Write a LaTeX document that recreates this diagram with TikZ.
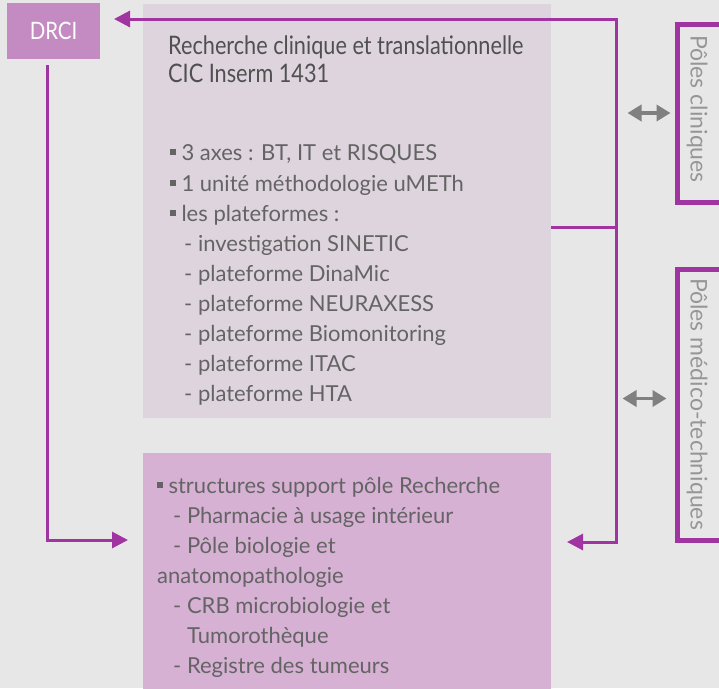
\documentclass[tikz,border=0pt]{standalone}
\usepackage{fontspec}
\setmainfont{Lato}
\newfontfamily\TitleFont{Lato}[FakeStretch=0.85]
\usepackage{xcolor}
\definecolor{ColLine}{RGB}{160,52,160}
\definecolor{ColDrci}{RGB}{195,139,193}
\definecolor{ColTop}{RGB}{222,212,222}
\definecolor{ColBot}{RGB}{214,177,212}
\definecolor{ColBg}{RGB}{231,231,231}
\definecolor{ColText}{RGB}{100,100,100}
\definecolor{ColTitle}{RGB}{80,80,80}
\definecolor{ColPole}{RGB}{150,150,150}
\definecolor{ColArr}{RGB}{128,128,128}
\usetikzlibrary{arrows.meta}
\tikzstyle{Box}=[anchor=north west,inner sep=0pt,outer sep=0pt]
\tikzstyle{Line}=[anchor=base west,inner sep=0pt,text=ColText,
font=\fontsize{22}{30}\selectfont]
\tikzstyle{Title}=[anchor=base west,inner sep=0pt,text=ColTitle,
font=\TitleFont\fontsize{25.5}{28}\selectfont]
\tikzstyle{Link}=[draw=ColLine,line width=3pt]
\tikzstyle{Pole}=[draw=ColLine,line width=5pt,anchor=north west,
inner sep=0pt]
\tikzstyle{PoleTxt}=[rotate=-90,text=ColPole,font=\fontsize{23}{24}\selectfont]
\tikzstyle{Both}=[draw=ColArr,line width=3.5pt,
{Triangle[length=14pt,width=16pt]}-{Triangle[length=14pt,width=16pt]}]
\newcommand{\Sq}{\rule[0.22em]{0.26em}{0.26em}}

\begin{document}
\begin{tikzpicture}[x=1pt,y=-1pt]
            \clip (0,0) rectangle (719,688);
            \fill[ColBg] (0,0) rectangle (719,688);
            %
            \node[Box,fill=ColDrci,minimum width=93pt,minimum height=56pt,
                text=white,font=\TitleFont\fontsize{24}{24}\selectfont](drci)
                at(7,3){DRCI};
            \node[Box,fill=ColTop,minimum width=408pt,minimum height=414pt]
                (rech)at(143,4){};
            \node[Box,fill=ColBot,minimum width=408pt,minimum height=240pt]
                (supp)at(143,453){};
            \node[Pole,minimum width=60pt,minimum height=178pt](pc)
                at(674.5,21.5){};
            \node[Pole,minimum width=60pt,minimum height=271pt](pm)
                at(674.5,266.5){};
            \node[PoleTxt](pctxt)at(697,109){Pôles cliniques};
            \node[PoleTxt](pmtxt)at(697,404){Pôles médico-techniques};
            %
            \node[Title](t1)at(168,54){Recherche clinique et translationnelle};
            \node[Title](t2)at(168,82){CIC Inserm 1431};
            \foreach \x/\y/\t [count=\i] in {
                170/160/{\Sq\ 3 axes : BT, IT et RISQUES},
                170/191/{\Sq\ 1 unité méthodologie uMETh},
                170/221/{\Sq\ les plateformes :},
                184/251/{- investigation SINETIC},
                184/281/{- plateforme DinaMic},
                184/311/{- plateforme NEURAXESS},
                184/341/{- plateforme Biomonitoring},
                184/371/{- plateforme ITAC},
                184/401/{- plateforme HTA}}
                \node[Line](a\i)at(\x,\y){\t};
            \foreach \x/\y/\t [count=\i] in {
                157/493/{\Sq\ structures support pôle Recherche},
                173/523/{- Pharmacie à usage intérieur},
                173/553/{- Pôle biologie et},
                157/583/{anatomopathologie},
                173/613/{- CRB microbiologie et},
                187/643/{Tumorothèque},
                173/673/{- Registre des tumeurs}}
                \node[Line](b\i)at(\x,\y){\t};
            %
            \coordinate(jT)at(616,19);
            \coordinate(jM)at(616,227);
            \coordinate(jB)at(616,542);
            \coordinate(aT)at(114,19);
            \coordinate(aB)at(567,542);
            \coordinate(d1)at(47,65);
            \coordinate(d2)at(47,540);
            \coordinate(aL)at(128,540);
            \draw[Link,{Triangle[length=16pt,width=16pt]}-{Triangle[length=16pt,width=16pt]}]
                (aB)--(jB)--(jT)--(aT);
            \draw[Link](rech.east|-jM)--(jM);
            \draw[Link,-{Triangle[length=16pt,width=16pt]}](d1)--(d2)--(aL);
            \draw[Both]([xshift=-47pt]pc.west)--([xshift=-4pt]pc.west);
            \draw[Both]([xshift=-52pt,yshift=6pt]pm.west)
                --([xshift=-8pt,yshift=6pt]pm.west);
        \end{tikzpicture}
\end{document}
